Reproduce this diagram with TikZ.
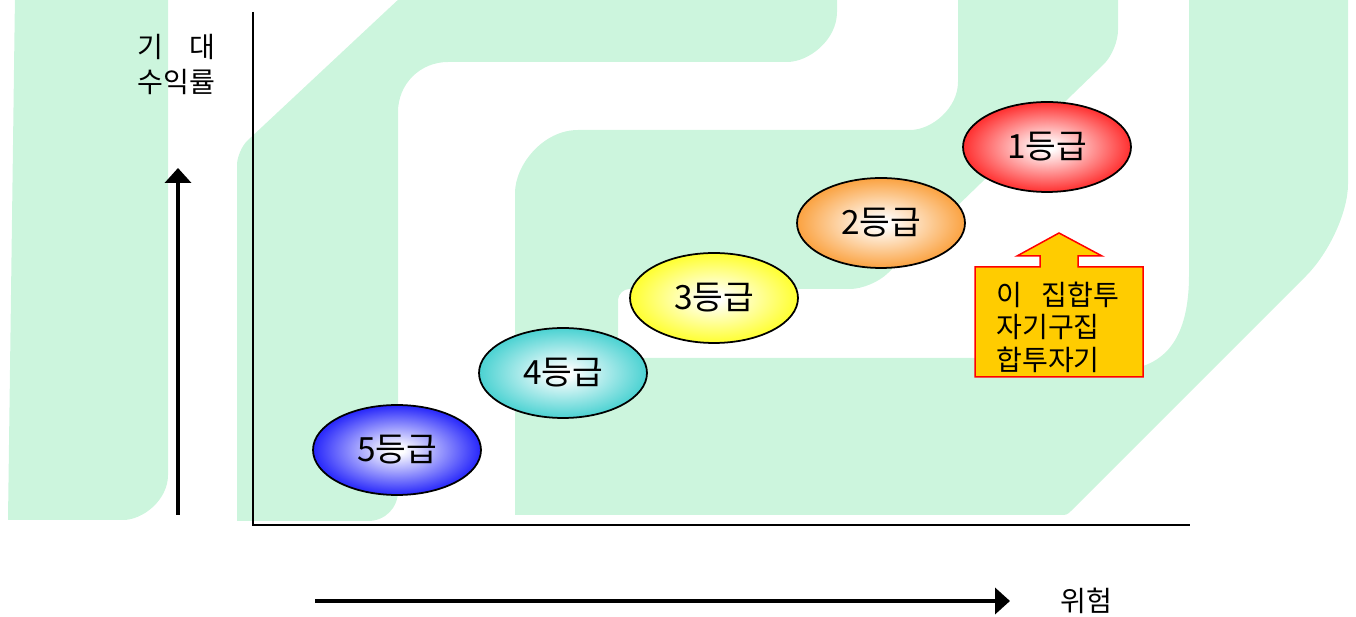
\documentclass[tikz,border=0pt]{standalone}
\usepackage{fontspec}
\setmainfont{Noto Sans CJK KR}
\usetikzlibrary{arrows.meta,shapes.geometric}

\definecolor{wmgreen}{RGB}{204,245,221}
\definecolor{notefill}{RGB}{255,204,0}
\definecolor{gradeblue}{RGB}{10,10,250}
\definecolor{gradeteal}{RGB}{51,204,204}
\definecolor{gradeyellow}{RGB}{255,255,20}
\definecolor{gradeorange}{RGB}{250,150,40}
\definecolor{gradered}{RGB}{255,20,20}
\colorlet{gradeouter}{gradeblue}
\pgfdeclareradialshading[gradeouter]{gradeshade}{\pgfpoint{0bp}{0bp}}{color(0bp)=(white); color(2bp)=(white); color(28bp)=(gradeouter); color(50bp)=(gradeouter)}

\tikzset{
  wm/.style={fill=wmgreen, draw=none},
  grade color/.code={\colorlet{gradeouter}{#1}},
  grade/.style={ellipse, draw=black, line width=1pt, minimum width=3.36cm, minimum height=1.8cm,
    inner sep=0pt, shading=gradeshade, grade color=#1, font=\fontsize{19}{22}\selectfont},
  axisline/.style={line width=1pt},
  bigarrow/.style={line width=0.09cm, -{Triangle[width=0.52cm,length=0.3cm]}},
  lbl/.style={font=\fontsize{16}{18.5}\selectfont, inner sep=0pt},
}

\begin{document}
\begin{tikzpicture}[x=0.02cm, y=-0.02cm]
			%%%%% START %%%%%
			\useasboundingbox (0,0) rectangle (1356,617);
			\clip (0,0) rectangle (1356,617);
			
			% watermark bands
			\fill[wm] (16,-80) -- (168,-80) -- (168,475) .. controls (168,500) and (143,520) .. (123,520) -- (8,520) -- cycle;
			
			\fill[wm] (237,521) -- (237,165) .. controls (237,157) and (242,146) .. (247,141) -- (462,-60) -- (837,-60)
			  -- (837,12) .. controls (837,40) and (809,62) .. (787,62) -- (448,62) .. controls (420,62) and (398,84) .. (398,112)
			  -- (398,491) .. controls (398,508) and (385,521) .. (368,521) -- cycle;
			
			\fill[wm] (958,-60) -- (958,82) .. controls (958,108) and (932,130) .. (910,130)
			  -- (578,130) .. controls (543,130) and (515,165) .. (515,193) -- (515,515)
			  -- (1060,515) .. controls (1067,515) .. (1072,510)
			  -- (1306,276) .. controls (1329,253) and (1348,212) .. (1348,184) -- (1348,-60) -- (1189,-60)
			  -- (1189,275) .. controls (1189,345) and (1160,372) .. (1110,370) -- (975,358) -- (618,358)
			  -- (618,300) .. controls (618,294) and (624,289) .. (629,289)
			  -- (850,289) .. controls (862,289) and (879,282) .. (888,273)
			  -- (1104,64) .. controls (1112,56) and (1118,41) .. (1118,30) -- (1118,-60) -- cycle;
			
			% axes
			\coordinate (origin) at (253,525);
			\coordinate (ymax) at (253,12);
			\coordinate (xmax) at (1190,525);
			\draw[axisline] (ymax) -- (origin) -- (xmax);
			
			\coordinate (upfoot) at (178,515);
			\coordinate (uphead) at (178,168);
			\draw[bigarrow] (upfoot) -- (uphead);
			
			\coordinate (rightfoot) at (315,601);
			\coordinate (righthead) at (1010,601);
			\draw[bigarrow] (rightfoot) -- (righthead);
			
			\node[lbl, anchor=base west] (ytop) at (137,58) {기\hspace{0.93em}대};
			\node[lbl, anchor=base west] (ybottom) at (137,93) {수익률};
			\node[lbl, anchor=base west] (xlabel) at (1060,612) {위험};
			
			% grades
			\node[grade=gradeblue] (g5) at (397,450) {5등급};
			\node[grade=gradeteal] (g4) at (563,373) {4등급};
			\node[grade=gradeyellow] (g3) at (714,298) {3등급};
			\node[grade=gradeorange] (g2) at (881,223) {2등급};
			\node[grade=gradered] (g1) at (1047,147) {1등급};
			
			% note with arrow
			\draw[draw=red, fill=notefill, line width=0.03cm] (975,377) -- (975,267) -- (1040,267) -- (1040,256) -- (1017,256) -- (1059,233) -- (1102,256) -- (1078,256) -- (1078,267) -- (1143,267) -- (1143,377) -- cycle;
			\node[lbl, align=left, anchor=west] (note) at (996,327) {이\hspace{0.7em}집합투\\자기구집\\합투자기};
			%%%%% END %%%%%
\end{tikzpicture}
\end{document}
